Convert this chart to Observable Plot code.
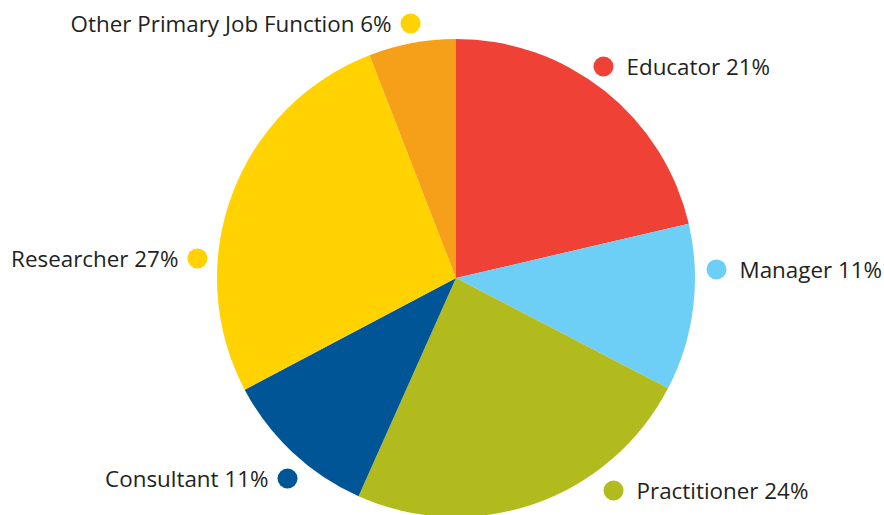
<!DOCTYPE html>
<html>
<head>
<meta charset="utf-8">
<script src="https://cdn.jsdelivr.net/npm/d3@7"></script>
<script src="https://cdn.jsdelivr.net/npm/@observablehq/plot@0.6"></script>
<style>
  html, body { margin: 0; padding: 0; background: #fff; }
  #chart svg { display: block; }
</style>
</head>
<body>
<div id="chart"></div>
<script>
// Data (slice sizes; labels as printed)
const categories = ["Educator", "Manager", "Practitioner", "Consultant", "Researcher", "Other Primary Job Function"];
const shares = [21.4, 11.3, 24.1, 10.6, 26.9, 5.9];
const labels = ["Educator 21%", "Manager 11%", "Practitioner 24%", "Consultant 11%", "Researcher 27%", "Other Primary Job Function 6%"];

// Styles / layout (separate from data)
const sliceColors = ["#EF4136", "#6DCFF6", "#B2BB1E", "#005596", "#FFD200", "#F6A01A"];
const dotColors   = ["#EF4136", "#6DCFF6", "#B2BB1E", "#005596", "#FFD200", "#FFD200"];
const labelX = [0.615, 1.088, 0.657, -0.707, -1.084, -0.192];
const labelY = [0.887, 0.038, -0.887, -0.837, 0.084, 1.067];
const labelSide = ["right", "right", "right", "left", "left", "left"];

const rows = categories.map((c, i) => ({
  category: c, share: shares[i], label: labels[i],
  lx: labelX[i], ly: labelY[i], side: labelSide[i],
  color: sliceColors[i], dot: dotColors[i]
}));

const pie = d3.pie().sort(null).value(d => d.share)(rows);

// Custom pie mark drawn through Plot's x/y scales
function pieMark(index, scales, values, dimensions, context) {
  const cx = scales.x(0), cy = scales.y(0);
  const r = Math.abs(scales.x(1) - scales.x(0));
  const arc = d3.arc().innerRadius(0).outerRadius(r);
  const g = d3.create("svg:g").attr("transform", `translate(${cx},${cy})`);
  g.selectAll("path").data(pie).join("path")
    .attr("d", arc)
    .attr("fill", d => d.data.color);
  return g.node();
}

const fontFamily = "'Open Sans', sans-serif";
const fontSize = 22.4;

const chart = Plot.plot({
  width: 884,
  height: 515,
  margin: 0,
  style: { background: "#fff", fontFamily },
  x: { domain: [-1, 1], range: [217, 695], axis: null },
  y: { domain: [1, -1], range: [39, 517], axis: null },
  marks: [
    pieMark,
    Plot.dot(rows, { x: "lx", y: "ly", r: 10, fill: "dot", stroke: null }),
    Plot.text(rows.filter(d => d.side === "right"), {
      x: "lx", y: "ly", text: "label", textAnchor: "start", dx: 23, dy: 1,
      fontSize, fill: "#231F20", fontFamily
    }),
    Plot.text(rows.filter(d => d.side === "left"), {
      x: "lx", y: "ly", text: "label", textAnchor: "end", dx: -19, dy: 1,
      fontSize, fill: "#231F20", fontFamily
    })
  ]
});

document.getElementById("chart").appendChild(chart);
</script>
</body>
</html>
